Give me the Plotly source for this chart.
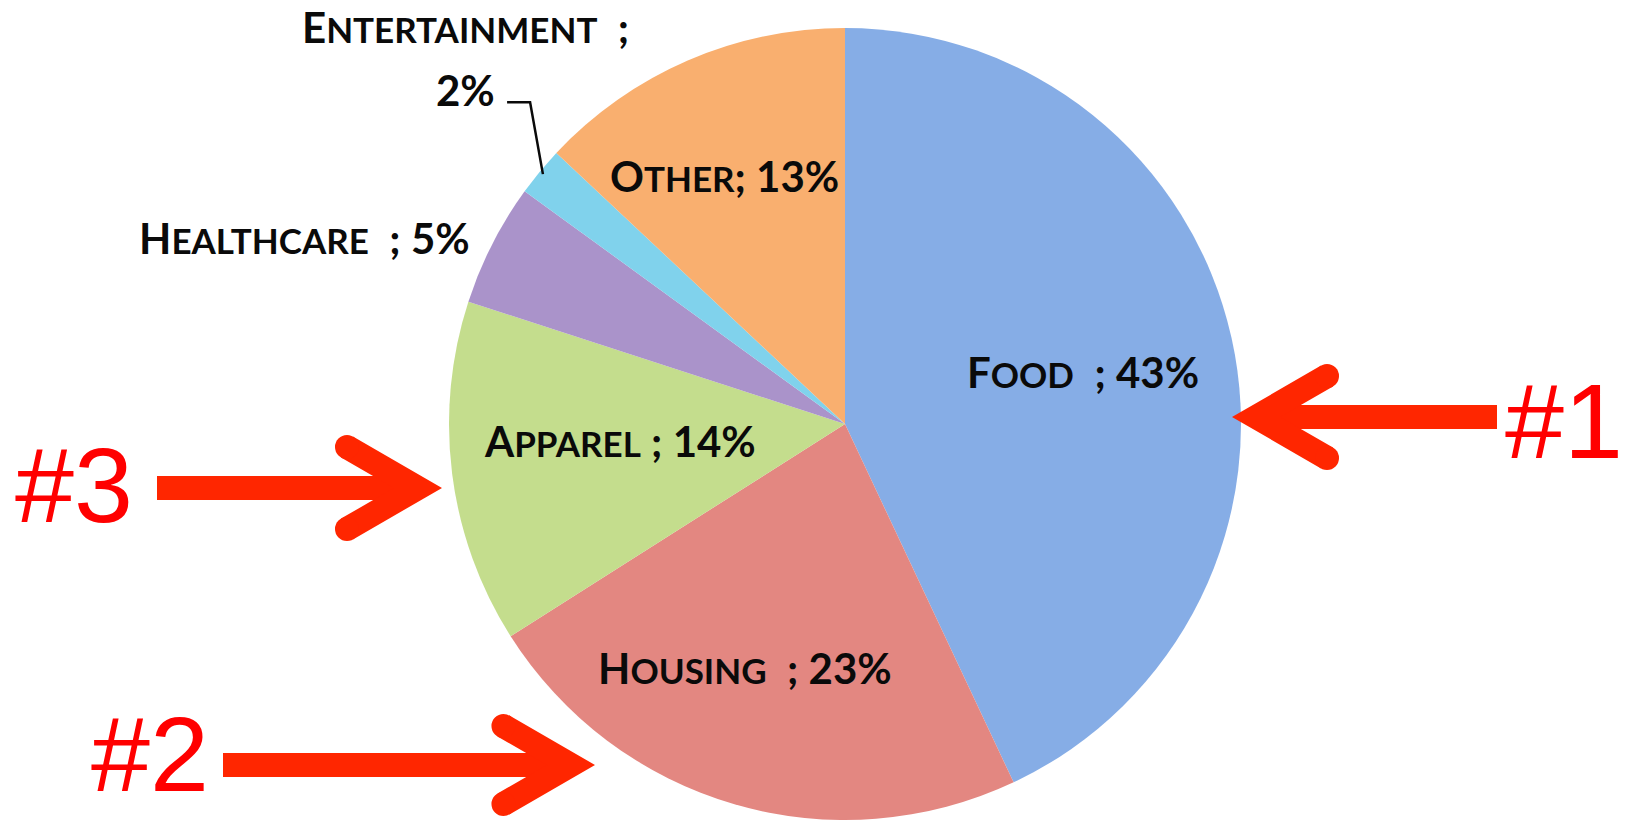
import math
import plotly.graph_objects as go

# ---------------- data ----------------
categories = ["Food", "Housing", "Apparel", "Healthcare", "Entertainment", "Other"]
shares = [43, 23, 14, 5, 2, 13]
rank_labels = ["#1", "#2", "#3"]

# ---------------- style ----------------
slice_colors = ["#86ade6", "#e38781", "#c4dd8d", "#aa93ca", "#80d2ec", "#f9af6f"]
sep_before = ["\u00a0\u00a0", "\u00a0\u00a0", "\u00a0", "\u00a0\u00a0", "\u00a0\u00a0", ""]
label_rfrac = [0.615, 0.666, 0.57, 1.053, 1.277, 0.697]
label_dang = [0.3, 6.1, 2.9, -0.5, 1.7, -2.6]
label_xanchor = ["center", "center", "center", "right", "center", "center"]

W, H = 1625, 822
CX, CY, R = 845, 424, 396
FONT = "Lato"
BIG, SMALL = 42, 35
TEXT_COLOR = "#0a0a0a"
ARROW_COLOR = "#ff2600"
ARROW_W = 24
RANK_COLOR = "#ff0000"
RANK_SIZE = 106


def px(x):
    return x / W


def py(y):
    return 1 - y / H


def smallcaps(word):
    return (f"{word[0].upper()}<span style='font-size:{SMALL}px'>"
            f"{word[1:].upper()}</span>")


total = sum(shares)
mid_angles = []
acc = 0
for v in shares:
    mid_angles.append((acc + v / 2) / total * 360.0)
    acc += v


def polar_px(rfrac, ang):
    a = math.radians(ang)
    return CX + rfrac * R * math.sin(a), CY - rfrac * R * math.cos(a)


fig = go.Figure()
fig.add_trace(go.Pie(
    labels=categories,
    values=shares,
    sort=False,
    direction="clockwise",
    rotation=0,
    marker=dict(colors=slice_colors, line=dict(width=0)),
    textinfo="none",
    hoverinfo="label+percent",
    domain=dict(x=[(CX - R) / W, (CX + R) / W],
                y=[(H - CY - R) / H, (H - CY + R) / H]),
    showlegend=False,
))

annotations = []
shapes = []

for i, (cat, v) in enumerate(zip(categories, shares)):
    pct = f"{round(v / total * 100)}%"
    ang = mid_angles[i] + label_dang[i]
    x, y = polar_px(label_rfrac[i], ang)
    if cat == "Entertainment":
        # two-line label with leader line
        annotations.append(dict(
            x=px(x), y=py(y - 63), xref="paper", yref="paper",
            text=f"<b>{smallcaps(cat)}{sep_before[i]};</b>",
            showarrow=False, xanchor="center", yanchor="middle",
            font=dict(family=FONT, size=BIG, color=TEXT_COLOR)))
        annotations.append(dict(
            x=px(x), y=py(y), xref="paper", yref="paper",
            text=f"<b>{pct}</b>",
            showarrow=False, xanchor="center", yanchor="middle",
            font=dict(family=FONT, size=BIG, color=TEXT_COLOR)))
        ex, ey = polar_px(0.99, mid_angles[i])
        sx, sy = x + 42, y + 12
        mx = sx + 23
        shapes.append(dict(
            type="path", xref="paper", yref="paper",
            path=f"M {px(sx)},{py(sy)} L {px(mx)},{py(sy)} L {px(ex)},{py(ey)}",
            line=dict(color=TEXT_COLOR, width=2.5)))
        continue
    annotations.append(dict(
        x=px(x), y=py(y), xref="paper", yref="paper",
        text=f"<b>{smallcaps(cat)}{sep_before[i]}; {pct}</b>",
        showarrow=False, xanchor=label_xanchor[i], yanchor="middle",
        font=dict(family=FONT, size=BIG, color=TEXT_COLOR)))

# ---------------- rank arrows ----------------
# (tip x, tip y, direction, shaft far end x, arm length, rank text x, anchor, rank text y)
arrows = [
    (1232, 417, -1, 1497, 82, W - 1, "right", 421),
    (595, 765, 1, 223, 78, 90, "left", 754),
    (442, 488, 1, 157, 82, 14, "left", 485),
]
half = math.radians(30)
for (tx, ty, d, far, arm, rx, anc, ry), lab in zip(arrows, rank_labels):
    vx = tx - d * (ARROW_W / 2) / math.sin(half)
    ax1 = vx - d * arm * math.cos(half)
    ay1 = ty - arm * math.sin(half)
    ay2 = ty + arm * math.sin(half)
    shapes.append(dict(type="line", xref="paper", yref="paper",
                       x0=px(far), y0=py(ty), x1=px(vx), y1=py(ty),
                       line=dict(color=ARROW_COLOR, width=ARROW_W)))
    shapes.append(dict(type="path", xref="paper", yref="paper",
                       path=f"M {px(ax1)},{py(ay1)} L {px(vx)},{py(ty)} L {px(ax1)},{py(ay2)}",
                       line=dict(color=ARROW_COLOR, width=ARROW_W)))
    rr = ARROW_W / 2
    for cy_ in (ay1, ay2):
        shapes.append(dict(type="circle", xref="paper", yref="paper",
                           x0=px(ax1 - rr), x1=px(ax1 + rr),
                           y0=py(cy_ + rr), y1=py(cy_ - rr),
                           fillcolor=ARROW_COLOR, line=dict(width=0)))
    annotations.append(dict(
        x=px(rx), y=py(ry), xref="paper", yref="paper", text=lab,
        showarrow=False, xanchor=anc, yanchor="middle", borderpad=0,
        font=dict(family="Liberation Sans, Arial", size=RANK_SIZE, color=RANK_COLOR)))

fig.update_layout(
    width=W, height=H,
    margin=dict(l=0, r=0, t=0, b=0),
    paper_bgcolor="white", plot_bgcolor="white",
    showlegend=False,
    annotations=annotations,
    shapes=shapes,
)

fig.write_html("out.html", config={"displayModeBar": False},
               post_script="document.body.style.margin='0';")
